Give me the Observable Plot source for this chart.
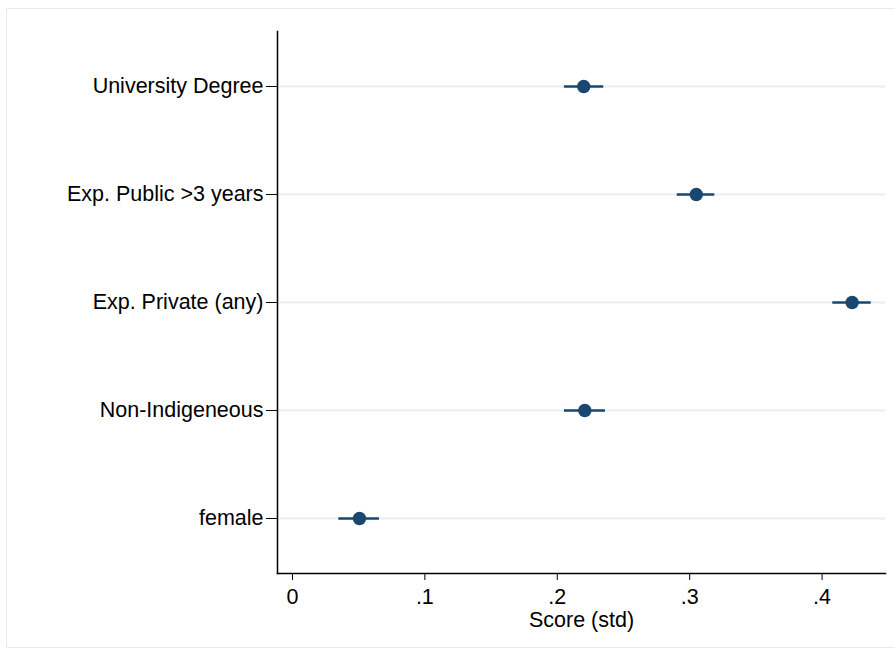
<!DOCTYPE html>
<html>
<head>
<meta charset="utf-8">
<script src="https://cdn.jsdelivr.net/npm/d3@7"></script>
<script src="https://cdn.jsdelivr.net/npm/@observablehq/plot@0.6"></script>
<style>
  html, body { margin: 0; padding: 0; background: #fff; }
  #wrap { position: relative; width: 895px; height: 658px; overflow: hidden; }
  #border { position: absolute; left: 6px; top: 8px; width: 900px; height: 640px; border: 1px solid #e6ecee; box-sizing: border-box; }
  #chart { position: absolute; left: 0; top: 0; }
</style>
</head>
<body>
<div id="wrap"><div id="border"></div><div id="chart"></div></div>
<script>
const categories = ["University Degree", "Exp. Public >3 years", "Exp. Private (any)", "Non-Indigeneous", "female"];
const estimates  = [0.220, 0.305, 0.4227, 0.2208, 0.0506];
const lower      = [0.2054, 0.2906, 0.4081, 0.2054, 0.0350];
const upper      = [0.2351, 0.3190, 0.4371, 0.2364, 0.0657];
const xTicks     = [0, 0.1, 0.2, 0.3, 0.4];
const xLabel     = "Score (std)";

const data = categories.map((c, i) => ({cat: c, est: estimates[i], lo: lower[i], hi: upper[i]}));
const navy = "#1a476f";
const fmt = d => d === 0 ? "0" : String(d).replace(/^0/, "");

const chart = Plot.plot({
  width: 895,
  height: 658,
  marginLeft: 277,
  marginRight: 10,
  marginTop: 31,
  marginBottom: 85,
  style: {fontFamily: "'Liberation Sans', Arial, Helvetica, sans-serif", fontSize: "21.5px", color: "#000", background: "transparent"},
  x: {domain: [-0.0113, 0.4479]},
  y: {type: "point", domain: categories, padding: 0.5},
  marks: [
    Plot.ruleY(categories, {y: d => d, stroke: "#e8eff2", strokeWidth: 2}),
    Plot.frame({anchor: "left", stroke: "#000", strokeWidth: 1.5}),
    Plot.frame({anchor: "bottom", stroke: "#000", strokeWidth: 1.5}),
    Plot.axisY({tickSize: 11, tickPadding: 3, label: null, fontSize: 21.5, stroke: "#000"}),
    Plot.axisX({ticks: xTicks, tickFormat: fmt, tickSize: 7, tickPadding: 8, fontSize: 21.5, label: null}),
    Plot.text([xLabel], {frameAnchor: "bottom", dy: 53, fontSize: 21.5, text: d => d}),
    Plot.ruleY(data, {y: "cat", x1: "lo", x2: "hi", stroke: navy, strokeWidth: 2.5}),
    Plot.dot(data, {y: "cat", x: "est", r: 6.7, fill: navy, stroke: null})
  ]
});
document.getElementById("chart").appendChild(chart);
</script>
</body>
</html>
